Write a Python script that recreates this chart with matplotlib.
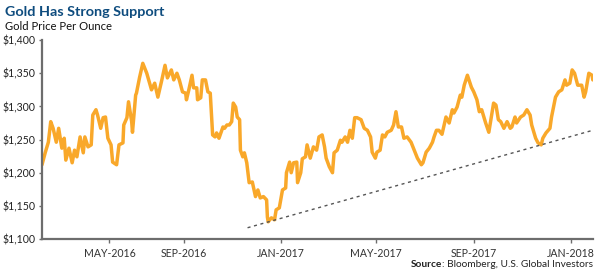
import matplotlib
matplotlib.use("Agg")
import matplotlib.pyplot as plt
import pandas as pd

# --- data ---
price_dates = [
  "2016-03-06", "2016-03-10", "2016-03-14", "2016-03-17", "2016-03-20", "2016-03-24",
  "2016-03-27", "2016-03-31", "2016-04-03", "2016-04-05", "2016-04-09", "2016-04-13",
  "2016-04-16", "2016-04-19", "2016-04-23", "2016-04-27", "2016-04-29", "2016-05-03",
  "2016-05-07", "2016-05-09", "2016-05-13", "2016-05-15", "2016-05-19", "2016-05-22",
  "2016-05-25", "2016-05-28", "2016-06-01", "2016-06-03", "2016-06-08", "2016-06-11",
  "2016-06-16", "2016-06-17", "2016-06-21", "2016-06-23", "2016-06-27", "2016-06-28",
  "2016-07-02", "2016-07-03", "2016-07-07", "2016-07-11", "2016-07-16", "2016-07-22",
  "2016-07-26", "2016-07-30", "2016-08-04", "2016-08-08", "2016-08-11", "2016-08-16",
  "2016-08-19", "2016-08-23", "2016-08-26", "2016-08-30", "2016-09-03", "2016-09-04",
  "2016-09-07", "2016-09-11", "2016-09-13", "2016-09-17", "2016-09-18", "2016-09-22",
  "2016-09-24", "2016-09-28", "2016-10-01", "2016-10-04", "2016-10-07", "2016-10-10",
  "2016-10-12", "2016-10-15", "2016-10-20", "2016-10-22", "2016-10-25", "2016-10-28",
  "2016-10-31", "2016-11-02", "2016-11-05", "2016-11-07", "2016-11-10", "2016-11-11",
  "2016-11-14", "2016-11-16", "2016-11-19", "2016-11-22", "2016-11-26", "2016-11-30",
  "2016-12-03", "2016-12-06", "2016-12-10", "2016-12-14", "2016-12-15", "2016-12-16",
  "2016-12-20", "2016-12-24", "2016-12-26", "2016-12-30", "2017-01-03", "2017-01-07",
  "2017-01-08", "2017-01-12", "2017-01-14", "2017-01-17", "2017-01-21", "2017-01-22",
  "2017-01-26", "2017-01-28", "2017-02-01", "2017-02-03", "2017-02-07", "2017-02-11",
  "2017-02-15", "2017-02-18", "2017-02-22", "2017-02-25", "2017-02-27", "2017-03-03",
  "2017-03-07", "2017-03-09", "2017-03-13", "2017-03-17", "2017-03-19", "2017-03-23",
  "2017-03-26", "2017-03-29", "2017-04-01", "2017-04-04", "2017-04-07", "2017-04-12",
  "2017-04-16", "2017-04-20", "2017-04-24", "2017-04-26", "2017-04-30", "2017-05-02",
  "2017-05-06", "2017-05-09", "2017-05-12", "2017-05-15", "2017-05-20", "2017-05-23",
  "2017-05-26", "2017-05-29", "2017-06-02", "2017-06-05", "2017-06-09", "2017-06-14",
  "2017-06-18", "2017-06-22", "2017-06-27", "2017-06-29", "2017-07-03", "2017-07-07",
  "2017-07-11", "2017-07-13", "2017-07-16", "2017-07-19", "2017-07-23", "2017-07-28",
  "2017-08-01", "2017-08-05", "2017-08-07", "2017-08-11", "2017-08-15", "2017-08-17",
  "2017-08-20", "2017-08-24", "2017-08-29", "2017-09-01", "2017-09-05", "2017-09-08",
  "2017-09-11", "2017-09-14", "2017-09-16", "2017-09-20", "2017-09-24", "2017-09-26",
  "2017-09-29", "2017-10-02", "2017-10-05", "2017-10-09", "2017-10-13", "2017-10-17",
  "2017-10-19", "2017-10-23", "2017-10-25", "2017-10-30", "2017-11-03", "2017-11-07",
  "2017-11-11", "2017-11-13", "2017-11-18", "2017-11-21", "2017-11-25", "2017-11-27",
  "2017-12-01", "2017-12-06", "2017-12-08", "2017-12-13", "2017-12-17", "2017-12-21",
  "2017-12-25", "2017-12-27", "2017-12-31", "2018-01-03", "2018-01-06", "2018-01-10",
  "2018-01-15", "2018-01-18", "2018-01-20", "2018-01-24", "2018-01-28", "2018-01-29",
]
gold_price = [
  1212, 1230, 1246, 1277, 1267, 1246,
  1267, 1237, 1252, 1219, 1237, 1215,
  1234, 1224, 1254, 1230, 1254, 1239,
  1242, 1287, 1295, 1287, 1267, 1283,
  1284, 1252, 1242, 1216, 1212, 1242,
  1245, 1272, 1283, 1307, 1277, 1261,
  1317, 1320, 1344, 1365, 1350, 1325,
  1335, 1314, 1340, 1362, 1343, 1355,
  1340, 1350, 1340, 1322, 1320, 1310,
  1325, 1347, 1328, 1328, 1310, 1313,
  1340, 1340, 1322, 1320, 1257, 1254,
  1260, 1252, 1269, 1267, 1272, 1272,
  1277, 1305, 1299, 1284, 1280, 1234,
  1224, 1230, 1215, 1185, 1186, 1164,
  1174, 1162, 1164, 1159, 1133, 1126,
  1132, 1129, 1144, 1147, 1174, 1177,
  1200, 1216, 1200, 1215, 1216, 1185,
  1200, 1221, 1224, 1242, 1222, 1239,
  1234, 1254, 1257, 1239, 1222, 1209,
  1200, 1230, 1234, 1249, 1246, 1254,
  1246, 1264, 1252, 1283, 1283, 1280,
  1267, 1264, 1254, 1231, 1222, 1231,
  1234, 1257, 1254, 1261, 1264, 1272,
  1292, 1269, 1269, 1252, 1254, 1246,
  1234, 1222, 1212, 1215, 1231, 1237,
  1246, 1254, 1264, 1264, 1258, 1284,
  1275, 1295, 1290, 1299, 1317, 1314,
  1332, 1347, 1329, 1322, 1310, 1292,
  1295, 1283, 1275, 1261, 1290, 1305,
  1302, 1280, 1277, 1267, 1277, 1267,
  1269, 1284, 1275, 1284, 1287, 1295,
  1287, 1272, 1252, 1245, 1242, 1252,
  1260, 1267, 1284, 1314, 1322, 1325,
  1340, 1332, 1335, 1355, 1350, 1332,
  1332, 1314, 1322, 1350, 1347, 1340,
]

# support (trend) line
trend_dates = ["2016-11-20", "2018-01-29"]
trend_values = [1117, 1264]

x_tick_dates = ["2016-05-30", "2016-09-01", "2017-01-01", "2017-05-01", "2017-09-01", "2018-01-01"]
x_tick_labels = ["MAY-2016", "SEP-2016", "JAN-2017", "MAY-2017", "SEP-2017", "JAN-2018"]
y_ticks = [1100, 1150, 1200, 1250, 1300, 1350, 1400]
y_tick_labels = ["$1,100", "$1,150", "$1,200", "$1,250", "$1,300", "$1,350", "$1,400"]

GOLD = "#F9A82A"
TITLE_BLUE = "#0E4C7E"
AXIS_GREY = "#6d6d6d"
TEXT = "#222222"

plt.rcParams["font.family"] = ["Lato", "DejaVu Sans"]

fig = plt.figure(figsize=(6.0, 2.71), dpi=100)
ax = fig.add_axes([0.07, 0.118, 0.918, 0.734])

ax.plot(pd.to_datetime(price_dates), gold_price, color=GOLD, lw=2.5,
        solid_joinstyle="round", solid_capstyle="round")
ax.plot(pd.to_datetime(trend_dates), trend_values, color="#555555", lw=1.0,
        linestyle=(0, (2.2, 2.6)))

ax.set_xlim(pd.Timestamp("2016-03-06"), pd.Timestamp("2018-01-29"))
ax.set_ylim(1100, 1400)

ax.set_xticks(pd.to_datetime(x_tick_dates))
ax.set_xticklabels(x_tick_labels, fontsize=7.6, color="#333333")
ax.set_yticks(y_ticks)
ax.set_yticklabels(y_tick_labels, fontsize=7.6, color=TEXT)

for side in ["top", "right"]:
  ax.spines[side].set_visible(False)
ax.spines["left"].set_color(AXIS_GREY)
ax.spines["left"].set_linewidth(1.6)
ax.spines["bottom"].set_color(AXIS_GREY)
ax.spines["bottom"].set_linewidth(1.6)
ax.tick_params(axis="x", direction="out", length=3.0, width=1.0, color=AXIS_GREY, pad=3.5)
ax.tick_params(axis="y", direction="out", length=2.5, width=1.0, color=AXIS_GREY, pad=2.5)

# --- titles ---
fig.text(0.008, 0.941, "Gold Has Strong Support", fontsize=10.4, fontweight="bold",
         color=TITLE_BLUE, va="baseline", ha="left")
fig.text(0.008, 0.891, "Gold Price Per Ounce", fontsize=8.1, color="#111111",
         va="baseline", ha="left")

# --- source note: bold "Source" followed by regular text ---
src = fig.text(0.988, 0.013, ": Bloomberg, U.S. Global Investors", fontsize=7.3,
               color=TEXT, ha="right", va="baseline")
fig.canvas.draw()
bb = src.get_window_extent()
fig.text(bb.x0 / fig.bbox.width, 0.013, "Source", fontsize=7.3, fontweight="bold",
         color=TEXT, ha="right", va="baseline")

fig.savefig("out.png", dpi=100)
